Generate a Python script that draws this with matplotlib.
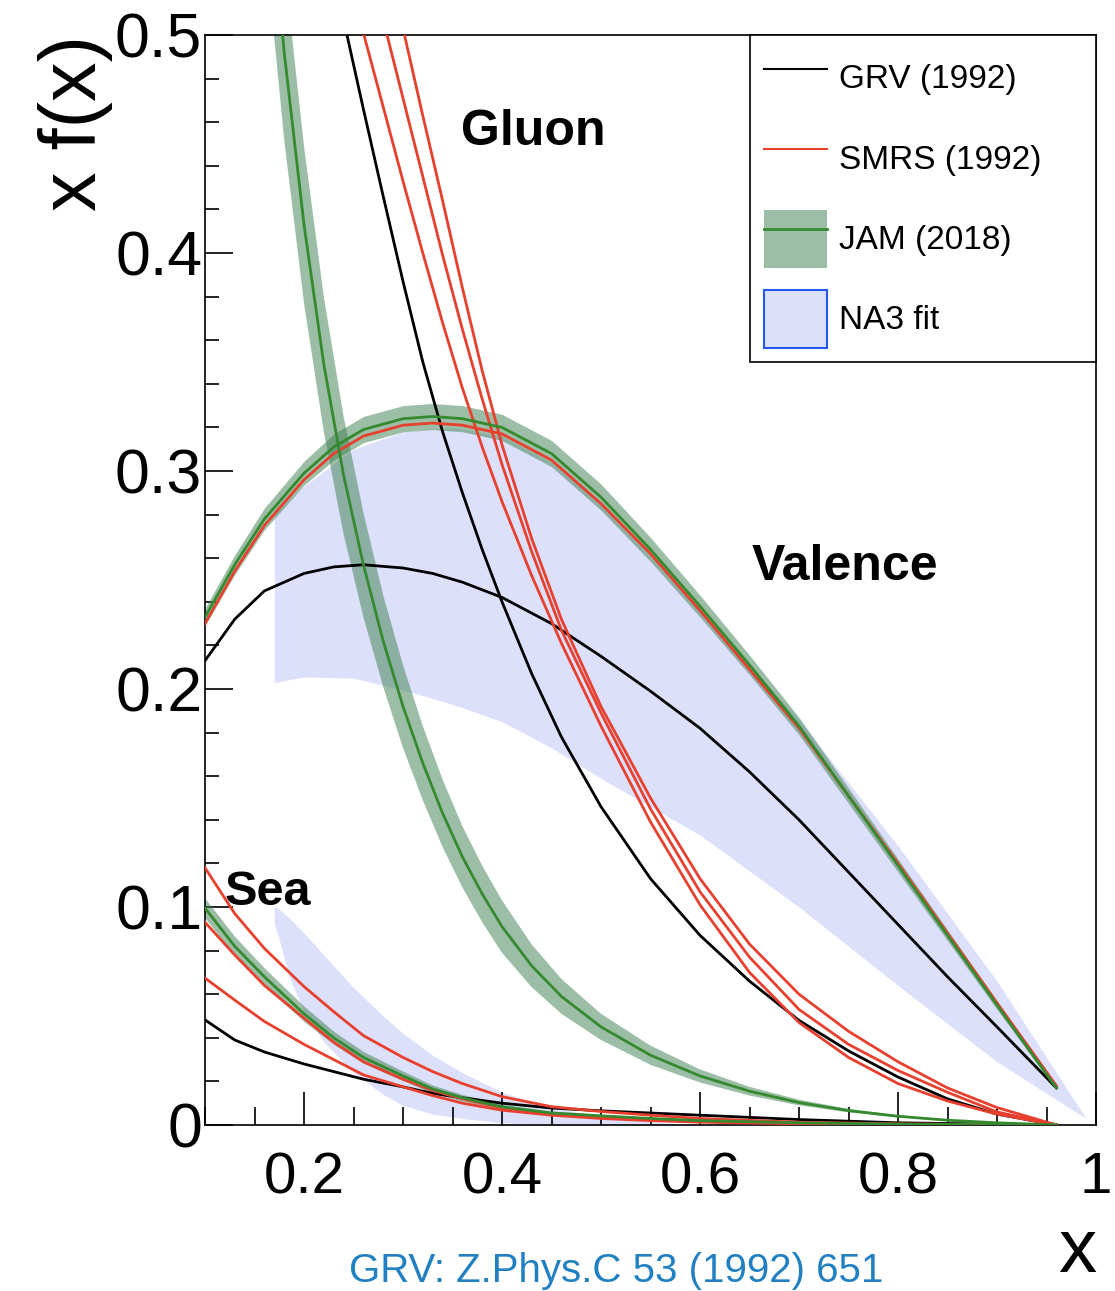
import matplotlib
matplotlib.use("Agg")
import numpy as np
import matplotlib.pyplot as plt
from matplotlib.patches import Patch
from matplotlib.lines import Line2D
from matplotlib.ticker import MultipleLocator, FuncFormatter

plt.rcParams['font.family'] = ['Liberation Sans', 'DejaVu Sans']

# --- valence (x f(x)) ---
val_x = [0.10, 0.13, 0.16, 0.20, 0.23, 0.26, 0.30, 0.33, 0.36, 0.40, 0.45,
         0.50, 0.55, 0.60, 0.65, 0.70, 0.75, 0.80, 0.85, 0.90, 0.96]
val_jam = [0.233, 0.257, 0.278, 0.299, 0.311, 0.319, 0.324, 0.325, 0.324, 0.320, 0.308,
           0.288, 0.264, 0.238, 0.211, 0.183, 0.151, 0.119, 0.087, 0.055, 0.017]
val_jam_err = [0.004, 0.0045, 0.005, 0.0055, 0.006, 0.006, 0.006, 0.006, 0.006, 0.006, 0.006,
               0.006, 0.0055, 0.005, 0.0045, 0.004, 0.0035, 0.003, 0.0025, 0.002, 0.001]
val_smrs = [0.230, 0.254, 0.275, 0.296, 0.308, 0.316, 0.321, 0.322, 0.321, 0.317, 0.305,
            0.285, 0.262, 0.236, 0.209, 0.182, 0.151, 0.120, 0.088, 0.056, 0.018]
val_grv = [0.213, 0.232, 0.245, 0.253, 0.256, 0.257, 0.2555, 0.253, 0.249, 0.242, 0.230,
           0.215, 0.199, 0.182, 0.162, 0.140, 0.116, 0.092, 0.068, 0.045, 0.017]

# NA3 valence band
na3_val_x = [0.17, 0.20, 0.25, 0.30, 0.35, 0.40, 0.45, 0.50, 0.60, 0.70, 0.80, 0.90, 0.99]
na3_val_hi = [0.281, 0.293, 0.310, 0.318, 0.320, 0.316, 0.304, 0.285, 0.236, 0.186, 0.128, 0.066, 0.003]
na3_val_lo = [0.203, 0.2055, 0.205, 0.1995, 0.193, 0.185, 0.173, 0.159, 0.133, 0.100, 0.064, 0.029, 0.003]

# --- gluon ---
glu_x = [0.16, 0.18, 0.20, 0.22, 0.24, 0.26, 0.28, 0.30, 0.32, 0.34, 0.36, 0.38, 0.40,
         0.43, 0.46, 0.50, 0.55, 0.60, 0.65, 0.70, 0.75, 0.80, 0.85, 0.90, 0.96]
glu_jam = [0.590, 0.492, 0.413, 0.349, 0.298, 0.257, 0.222, 0.192, 0.166, 0.143, 0.123, 0.106, 0.091,
           0.073, 0.059, 0.045, 0.032, 0.0225, 0.0155, 0.0103, 0.0066, 0.004, 0.0022, 0.001, 0.0]
glu_jam_err = [0.045, 0.040, 0.036, 0.031, 0.027, 0.024, 0.021, 0.019, 0.017, 0.0155, 0.014, 0.013, 0.012,
               0.0098, 0.008, 0.006, 0.0044, 0.003, 0.002, 0.0013, 0.0008, 0.0005, 0.0003, 0.0001, 0.0]
glu_grv = [0.67, 0.63, 0.59, 0.548, 0.507, 0.466, 0.426, 0.387, 0.350, 0.318, 0.290, 0.264, 0.240,
           0.207, 0.178, 0.146, 0.113, 0.087, 0.066, 0.048, 0.034, 0.022, 0.012, 0.005, 0.0]
glu_smrs_1 = [0.68, 0.64, 0.605, 0.570, 0.535, 0.501, 0.467, 0.433, 0.400, 0.368, 0.338, 0.311, 0.286,
              0.252, 0.221, 0.183, 0.139, 0.101, 0.070, 0.047, 0.031, 0.019, 0.011, 0.005, 0.0]
glu_smrs_2 = [0.72, 0.69, 0.65, 0.615, 0.580, 0.543, 0.507, 0.471, 0.435, 0.399, 0.365, 0.333, 0.303,
              0.263, 0.227, 0.189, 0.145, 0.107, 0.077, 0.053, 0.037, 0.025, 0.015, 0.006, 0.0]
glu_smrs_3 = [0.78, 0.74, 0.70, 0.66, 0.62, 0.58, 0.54, 0.503, 0.463, 0.424, 0.384, 0.346, 0.312,
              0.269, 0.232, 0.192, 0.150, 0.113, 0.083, 0.060, 0.043, 0.029, 0.017, 0.008, 0.0]

# --- sea ---
sea_x = [0.10, 0.13, 0.16, 0.20, 0.23, 0.26, 0.30, 0.33, 0.36, 0.40, 0.45,
         0.50, 0.55, 0.60, 0.70, 0.80, 0.96]
sea_jam = [0.0995, 0.082, 0.068, 0.051, 0.040, 0.031, 0.0225, 0.0165, 0.0125, 0.0083, 0.0055,
           0.0042, 0.003, 0.002, 0.001, 0.0004, 0.0]
sea_jam_err = [0.0045, 0.0045, 0.004, 0.0035, 0.003, 0.0027, 0.0022, 0.0018, 0.0015, 0.0012, 0.0009,
               0.0007, 0.0005, 0.0004, 0.0002, 0.0001, 0.0]
sea_smrs_1 = [0.118, 0.097, 0.081, 0.0635, 0.052, 0.041, 0.031, 0.0245, 0.019, 0.013, 0.0084,
              0.0062, 0.0045, 0.003, 0.0013, 0.0005, 0.0]
sea_smrs_2 = [0.093, 0.078, 0.064, 0.049, 0.038, 0.029, 0.021, 0.0158, 0.012, 0.008, 0.0052,
              0.0038, 0.0027, 0.0018, 0.0008, 0.0003, 0.0]
sea_smrs_3 = [0.0674, 0.0573, 0.0475, 0.037, 0.030, 0.023, 0.0175, 0.0135, 0.010, 0.0068, 0.0045,
              0.003, 0.002, 0.0013, 0.0005, 0.0002, 0.0]
sea_grv = [0.0482, 0.039, 0.0335, 0.028, 0.0245, 0.021, 0.0175, 0.0145, 0.0125, 0.010, 0.0078,
           0.0065, 0.0055, 0.0045, 0.0025, 0.001, 0.0]

# NA3 sea band
na3_sea_x = [0.17, 0.175, 0.185, 0.20, 0.22, 0.25, 0.28, 0.30, 0.33, 0.36, 0.40, 0.45, 0.50, 0.55, 0.60]
na3_sea_hi = [0.101, 0.099, 0.095, 0.088, 0.078, 0.063, 0.050, 0.042, 0.032, 0.024, 0.015, 0.008, 0.004, 0.0015, 0.0]
na3_sea_lo = [0.092, 0.085, 0.068, 0.052, 0.038, 0.024, 0.014, 0.009, 0.005, 0.003, 0.001, 0.0, 0.0, 0.0, 0.0]

labels = ['GRV (1992)', 'SMRS (1992)', 'JAM (2018)', 'NA3 fit']

red = '#e8402e'
green = '#358a30'
band = '#3d7f4f'
na3 = '#dde0fa'

fig = plt.figure(figsize=(11.15, 12.91), dpi=100)
ax = fig.add_axes([205 / 1115, 1 - 1125 / 1291, 891 / 1115, 1090 / 1291])

# NA3 bands
ax.fill_between(na3_val_x, na3_val_lo, na3_val_hi, color=na3, lw=0, zorder=1)
ax.fill_between(na3_sea_x, na3_sea_lo, na3_sea_hi, color=na3, lw=0, zorder=1)

# JAM bands
for xs, c, e in [(val_x, val_jam, val_jam_err), (glu_x, glu_jam, glu_jam_err), (sea_x, sea_jam, sea_jam_err)]:
    c = np.array(c)
    e = np.array(e)
    ax.fill_between(xs, c - e, c + e, color=band, alpha=0.5, lw=0, zorder=2)

lw = 2.0
# GRV
for xs, ys in [(val_x, val_grv), (glu_x, glu_grv), (sea_x, sea_grv)]:
    ax.plot(xs, ys, color='black', lw=lw, zorder=3)
# SMRS
for xs, ys in [(val_x, val_smrs), (glu_x, glu_smrs_1), (glu_x, glu_smrs_2), (glu_x, glu_smrs_3),
               (sea_x, sea_smrs_1), (sea_x, sea_smrs_2), (sea_x, sea_smrs_3)]:
    ax.plot(xs, ys, color=red, lw=lw, zorder=3)
# JAM central
for xs, ys in [(val_x, val_jam), (glu_x, glu_jam), (sea_x, sea_jam)]:
    ax.plot(xs, ys, color=green, lw=lw, zorder=4)

ax.set_xlim(0.1, 1.0)
ax.set_ylim(0, 0.5)

ax.xaxis.set_major_locator(MultipleLocator(0.2))
ax.xaxis.set_minor_locator(MultipleLocator(0.05))
ax.yaxis.set_major_locator(MultipleLocator(0.1))
ax.yaxis.set_minor_locator(MultipleLocator(0.02))
ax.xaxis.set_major_formatter(FuncFormatter(lambda v, p: '%g' % round(v, 2)))
ax.yaxis.set_major_formatter(FuncFormatter(lambda v, p: '%g' % round(v, 2)))

ax.tick_params(axis='x', which='major', direction='in', length=24, width=1.2, labelsize=42, pad=19)
ax.tick_params(axis='x', which='minor', direction='in', length=13, width=1.2)
ax.tick_params(axis='y', which='major', direction='in', length=20, width=1.2, labelsize=45, pad=2)
ax.tick_params(axis='y', which='minor', direction='in', length=10, width=1.2)
for s in ax.spines.values():
    s.set_linewidth(1.2)

# region labels
ax.text(0.359, 0.4495, 'Gluon', fontsize=36, fontweight='bold', ha='left', va='baseline')
ax.text(0.652, 0.250, 'Valence', fontsize=36, fontweight='bold', ha='left', va='baseline')
ax.text(0.120, 0.101, 'Sea', fontsize=35, fontweight='bold', ha='left', va='baseline')

# axis titles
ax.text(-0.1033, 1.0, 'x f(x)', transform=ax.transAxes, rotation=90,
        ha='right', va='top', fontsize=57)
fig.text(1096 / 1115, 0.002, 'x', ha='right', va='bottom', fontsize=55)

# legend
handles = [Line2D([], [], color='black', lw=1.5),
           Line2D([], [], color=red, lw=1.5),
           (Patch(facecolor=band, alpha=0.5, edgecolor='none'), Line2D([], [], color=green, lw=2)),
           Patch(facecolor=na3, edgecolor='#2258ee', lw=1.5)]
leg = ax.legend(handles, labels, loc='upper right', bbox_to_anchor=(0.6117, 0, 0.3883, 1.0),
                mode='expand', borderaxespad=0, fontsize=24, handlelength=1.9, handleheight=2.3,
                labelspacing=0.67, borderpad=0.42, handletextpad=0.35, fancybox=False,
                framealpha=1, edgecolor='black')
leg.get_frame().set_linewidth(1.2)
leg.set_zorder(10)

# reference caption
fig.text(0.5526, 0.001, 'GRV: Z.Phys.C 53 (1992) 651', color='#2180c2', fontsize=29,
         ha='center', va='bottom')

fig.savefig('out.png', dpi=100)
